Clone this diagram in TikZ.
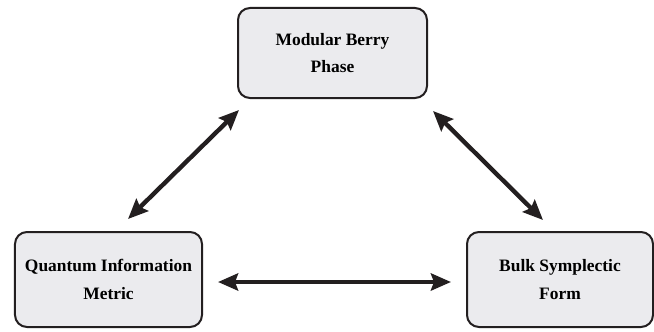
\documentclass[tikz,border=0pt]{standalone}
\usepackage{fontspec}
\setmainfont{Liberation Serif}
\usetikzlibrary{arrows.meta}

\definecolor{boxfill}{RGB}{235,235,238}
\definecolor{ink}{RGB}{35,31,32}

\begin{document}
\begin{tikzpicture}[x=1bp,y=1bp,
    box/.style={draw=ink,line width=2bp,fill=boxfill,rounded corners=12bp,
        align=center,font=\fontsize{17.5}{28}\selectfont\bfseries,inner sep=0pt},
    arr/.style={ink,line width=4.4bp,{Stealth[length=20bp,width=17bp,inset=3bp]}-{Stealth[length=20bp,width=17bp,inset=3bp]}}]
            \useasboundingbox (0,0) rectangle (654,331);

            \node[box,minimum width=189bp,minimum height=90bp] (berry) at (332.5,278) {Modular Berry\\Phase};
            \node[box,minimum width=187bp,minimum height=95bp] (metric) at (108.5,51.5) {Quantum Information\\Metric};
            \node[box,minimum width=186bp,minimum height=95bp] (bulk) at (560,51.5) {Bulk Symplectic\\Form};

            \draw[arr] ([shift={(2,-11)}]berry.south west) -- ([shift={(-75,12)}]metric.north east);
            \draw[arr] ([shift={(5,-12)}]berry.south east) -- ([shift={(77,11)}]bulk.north west);
            \draw[arr] ([shift={(15,-2.5)}]metric.east) -- ([shift={(-15,-2.5)}]bulk.west);
        \end{tikzpicture}
\end{document}
